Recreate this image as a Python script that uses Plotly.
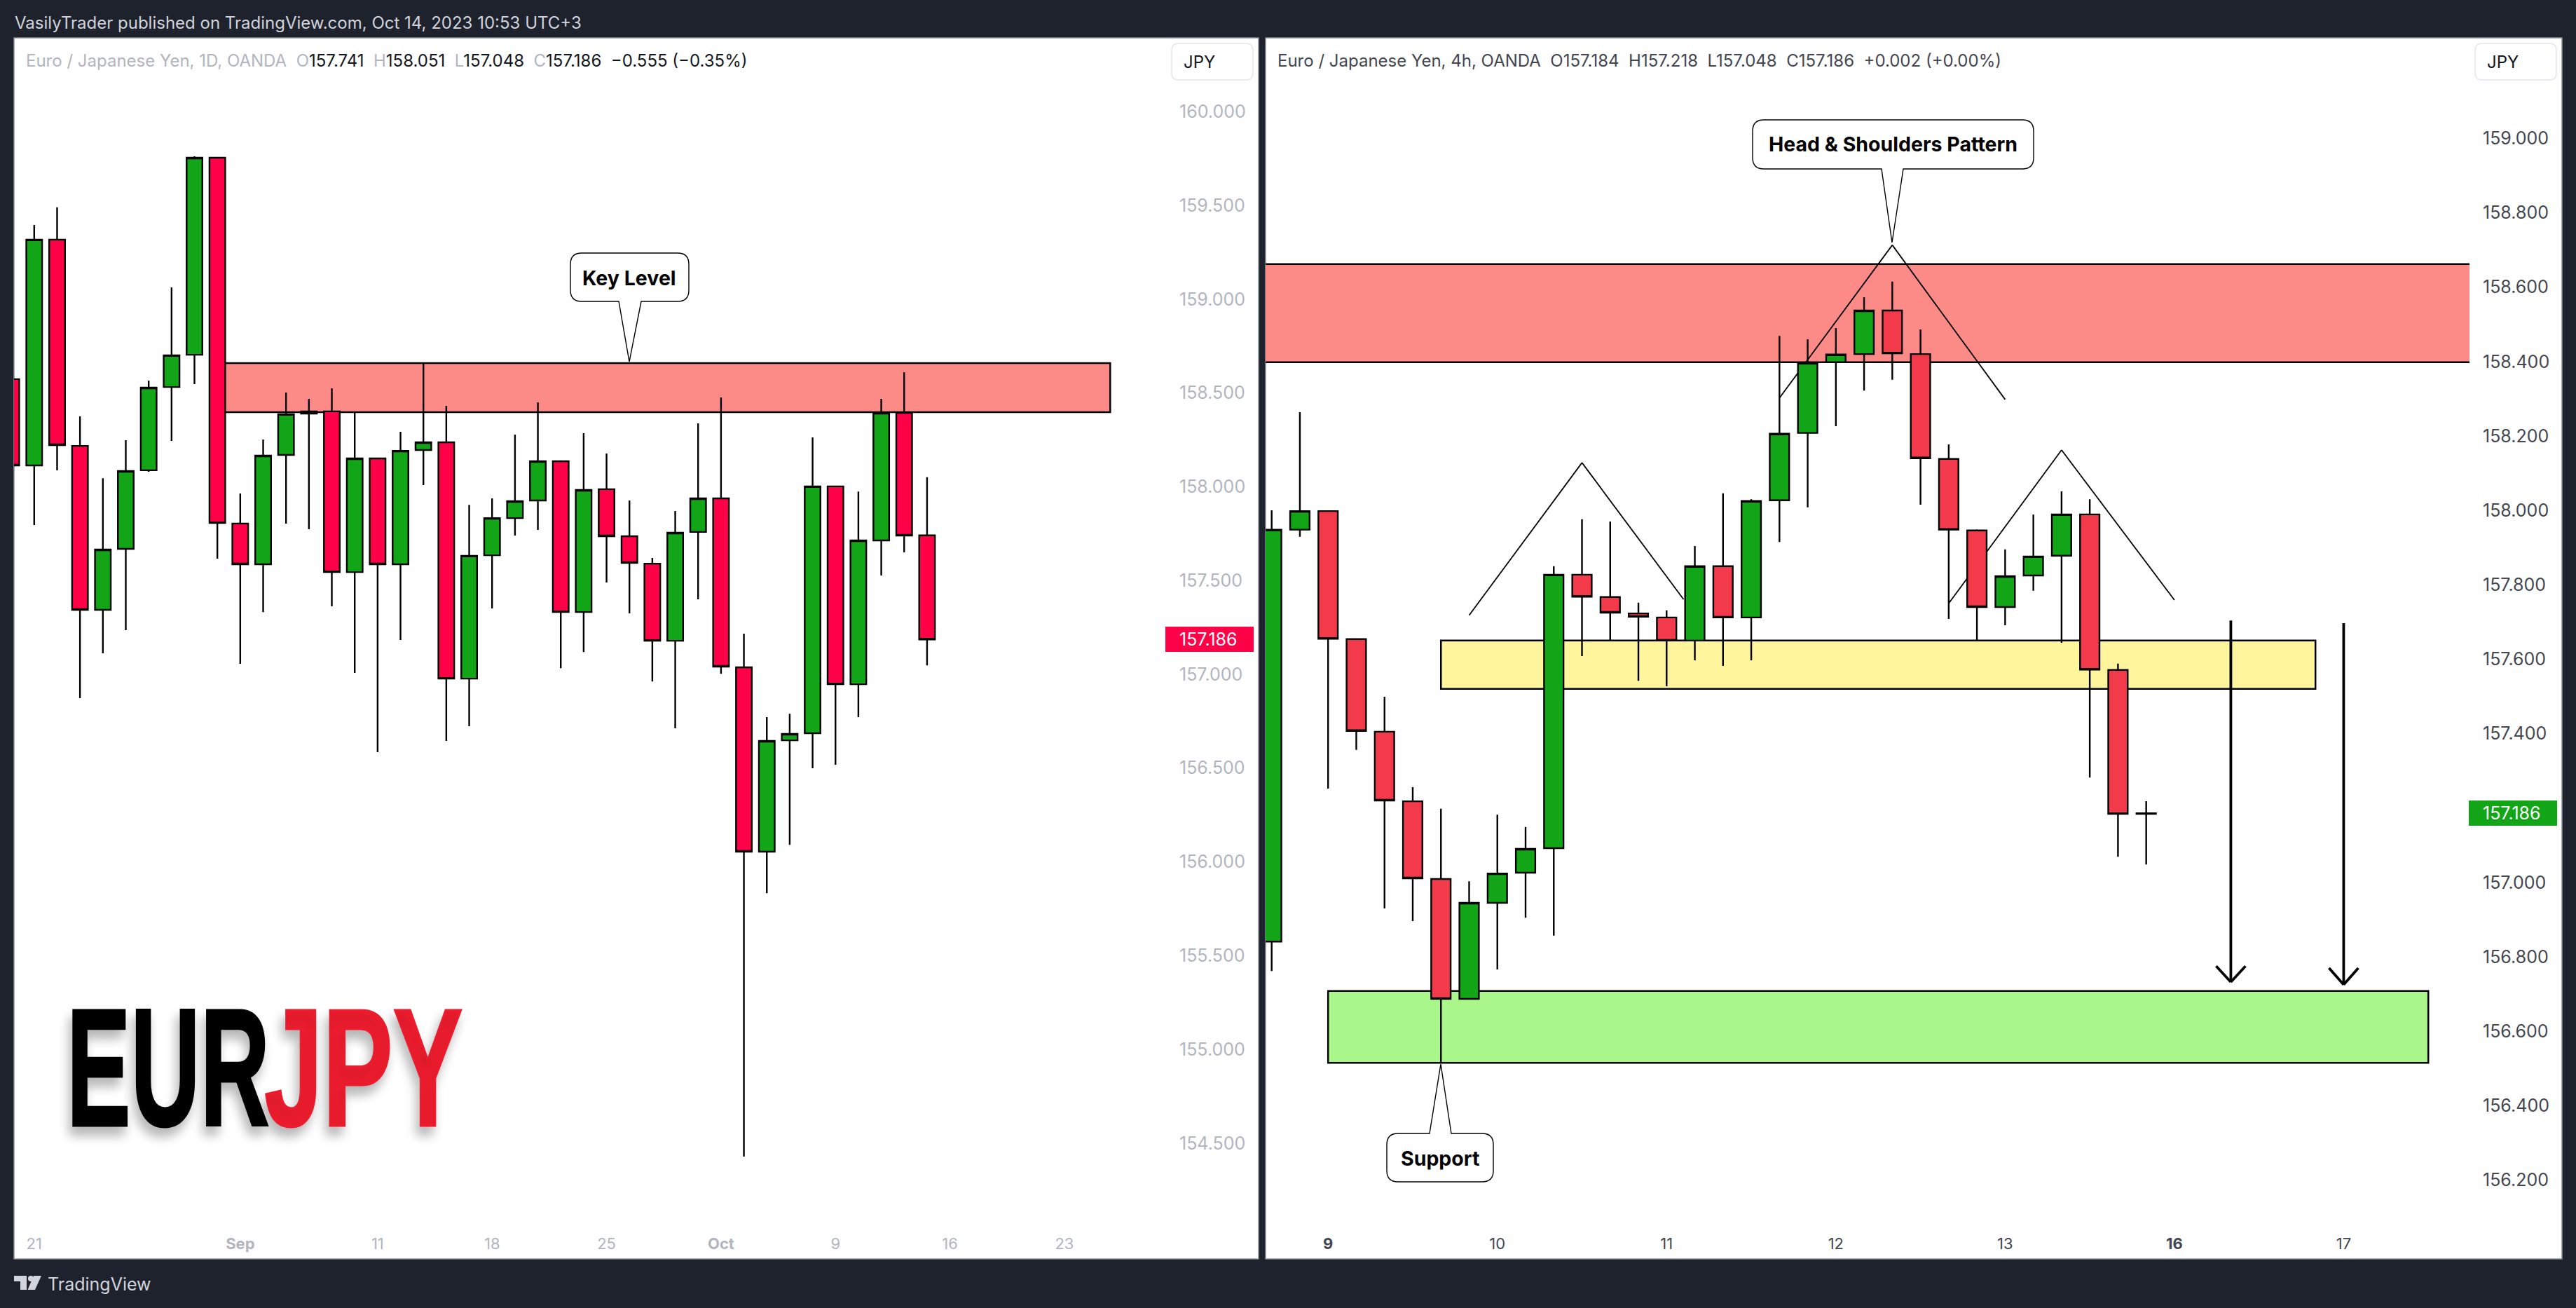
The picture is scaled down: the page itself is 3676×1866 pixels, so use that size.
import plotly.graph_objects as go

W, H = 3676, 1866

# daily candles, session index -1 is the one cut off by the left edge
daily_x = list(range(-1, 40))
daily_open = [158.574, 158.114, 159.318, 158.218, 157.344, 157.669, 158.088, 158.532, 158.704, 159.755,
              157.804, 157.587, 158.170, 158.390, 158.402, 157.545, 158.151, 157.587, 158.196, 158.237,
              156.977, 157.635, 157.833, 157.927, 158.136, 157.332, 157.987, 157.736, 157.590, 157.179,
              157.759, 157.938, 157.037, 156.054, 156.648, 156.686, 158.002, 156.947, 157.714, 158.394,
              157.741]
daily_high = [158.574, 159.396, 159.490, 158.375, 158.046, 158.248, 158.566, 159.063, 159.762, 159.755,
              157.964, 158.252, 158.503, 158.469, 158.525, 158.398, 158.151, 158.293, 158.660, 158.432,
              157.904, 157.938, 158.278, 158.450, 158.136, 158.286, 158.177, 157.927, 157.620, 157.871,
              158.338, 158.476, 157.217, 156.772, 156.790, 158.263, 158.002, 157.975, 158.469, 158.611,
              158.051]
daily_low = [158.114, 157.796, 158.088, 156.873, 157.112, 157.235, 158.080, 158.245, 158.547, 157.617,
             157.056, 157.332, 157.804, 157.774, 157.362, 157.007, 156.585, 157.183, 158.009, 156.645,
             156.723, 157.351, 157.740, 157.770, 157.033, 157.119, 157.490, 157.325, 156.962, 156.712,
             157.400, 157.003, 154.428, 155.833, 156.091, 156.499, 156.518, 156.772, 157.527, 157.650,
             157.048]
daily_close = [158.114, 159.318, 158.222, 157.344, 157.665, 158.084, 158.529, 158.701, 159.755, 157.807,
               157.587, 158.166, 158.387, 158.402, 157.545, 158.151, 157.587, 158.192, 158.237, 156.977,
               157.632, 157.833, 157.923, 158.136, 157.332, 157.983, 157.736, 157.594, 157.179, 157.755,
               157.938, 157.041, 156.054, 156.645, 156.682, 158.002, 156.947, 157.714, 158.394, 157.740,
               157.186]

# 4h candles
h4_x = list(range(32))
h4_open = [156.841, 157.948, 157.998, 157.654, 157.405, 157.218, 157.009, 156.687, 156.945, 157.026,
           157.092, 157.827, 157.767, 157.723, 157.712, 157.650, 157.850, 157.712, 158.027, 158.208,
           158.398, 158.420, 158.537, 158.420, 158.138, 157.946, 157.740, 157.825, 157.878, 157.989,
           157.571, 157.184]
h4_high = [158.000, 158.264, 157.998, 157.654, 157.499, 157.256, 157.198, 157.003, 157.182, 157.149,
           157.850, 157.976, 157.970, 157.752, 157.731, 157.904, 158.046, 158.030, 158.469, 158.460,
           158.490, 158.573, 158.615, 158.486, 158.177, 157.949, 157.895, 157.989, 158.051, 158.030,
           157.588, 157.218]
h4_low = [156.762, 157.929, 157.252, 157.356, 156.930, 156.896, 156.514, 156.687, 156.766, 156.905,
          156.857, 157.608, 157.650, 157.542, 157.527, 157.597, 157.582, 157.597, 157.915, 158.008,
          158.226, 158.322, 158.351, 158.015, 157.708, 157.648, 157.691, 157.784, 157.644, 157.282,
          157.069, 157.048]
h4_close = [157.948, 157.998, 157.655, 157.407, 157.220, 157.011, 156.687, 156.945, 157.024, 157.090,
            157.827, 157.768, 157.725, 157.714, 157.650, 157.850, 157.712, 158.025, 158.206, 158.396,
            158.419, 158.537, 158.422, 158.140, 157.948, 157.740, 157.823, 157.876, 157.989, 157.572,
            157.184, 157.186]

daily_price_ticks = [160.0, 159.5, 159.0, 158.5, 158.0, 157.5, 157.0, 156.5, 156.0, 155.5, 155.0, 154.5]
daily_time_ticks = [0, 9, 15, 20, 25, 30, 35, 40, 45]
daily_time_labels = ["21", "<b>Sep</b>", "11", "18", "25", "<b>Oct</b>", "9", "16", "23"]
# 157.2 is hidden behind the last-price tag on the real chart
h4_price_ticks = [159.0, 158.8, 158.6, 158.4, 158.2, 158.0, 157.8, 157.6, 157.4, 157.0, 156.8, 156.6, 156.4, 156.2]
h4_time_ticks = [2, 8, 14, 20, 26, 32, 38]
h4_time_labels = ["<b>9</b>", "10", "11", "12", "13", "<b>16</b>", "17"]

# zones: x0, x1, low, high
key_level = [8, 47, 158.398, 158.660]
h4_red_zone = [-1, 50, 158.398, 158.662]
h4_yellow_zone = [6, 37, 157.520, 157.650]
h4_green_zone = [2, 41, 156.515, 156.708]

# head and shoulders legs
shoulder_left_x, shoulder_left_y = [7, 11, 14.6], [157.718, 158.128, 157.761]
head_x, head_y = [18, 22, 26], [158.302, 158.713, 158.298]
shoulder_right_x, shoulder_right_y = [24, 28, 32], [157.750, 158.162, 157.759]

# target arrows: x, start, tip, barb level
arrow_one = [34, 157.704, 156.732, 156.775]
arrow_two = [38, 157.697, 156.725, 156.770]

GREEN = "#12a517"
RED_1D = "#ff0147"
RED_4H = "#f33a4a"
FONT = "Inter"


def px(x):
    return x / W


def py(y):
    return 1 - y / H


def rounded(x0, y0, x1, y1, r, fill, line, width, spike=None):
    # rounded box in pixels, spike = (base0, base1, tip_x, tip_y) above or below the box
    def p(x, y):
        return f"{px(x):.5f},{py(y):.5f}"
    s = f"M{p(x0 + r, y0)}"
    if spike and spike[3] < y0:
        s += f" L{p(spike[0], y0)} L{p(spike[2], spike[3])} L{p(spike[1], y0)}"
    s += f" L{p(x1 - r, y0)} Q{p(x1, y0)} {p(x1, y0 + r)} L{p(x1, y1 - r)} Q{p(x1, y1)} {p(x1 - r, y1)}"
    if spike and spike[3] > y1:
        s += f" L{p(spike[1], y1)} L{p(spike[2], spike[3])} L{p(spike[0], y1)}"
    s += f" L{p(x0 + r, y1)} Q{p(x0, y1)} {p(x0, y1 - r)} L{p(x0, y0 + r)} Q{p(x0, y0)} {p(x0 + r, y0)} Z"
    return dict(type="path", xref="paper", yref="paper", path=s, fillcolor=fill,
                line=dict(color=line, width=width), layer="above")


def callout(x0, y0, x1, y1, base0, base1, tip_x, tip_y):
    return rounded(x0, y0, x1, y1, 16, "white", "black", 1.4, (base0, base1, tip_x, tip_y))


def poly(points):
    return "M" + " L".join(f"{px(x):.5f},{py(y):.5f}" for x, y in points) + " Z"


def tag(x0, x1, y0, y1, color):
    return dict(type="path", xref="paper", yref="paper", path=poly([(x0, y0), (x1, y0), (x1, y1), (x0, y1)]),
                fillcolor=color, line=dict(color=color, width=2), layer="above")


def zone(xr, yr, rect, color):
    return dict(type="rect", xref=xr, yref=yr, x0=rect[0], x1=rect[1], y0=rect[2], y1=rect[3],
                fillcolor=color, line=dict(color="black", width=2.5), layer="below")


def legs(xr, yr, xs, ys):
    return [dict(type="line", xref=xr, yref=yr, x0=xs[i], x1=xs[i + 1], y0=ys[i], y1=ys[i + 1],
                 line=dict(color="black", width=1.8), layer="below") for i in range(len(xs) - 1)]


def arrow(xr, yr, a):
    x, start, tip, barb = a
    out = []
    for x0, y0, x1, y1 in [(x, start, x, tip), (x - 0.52, barb, x, tip), (x + 0.52, barb, x, tip)]:
        out.append(dict(type="line", xref=xr, yref=yr, x0=x0, x1=x1, y0=y0, y1=y1,
                        line=dict(color="black", width=3.8), layer="above"))
    return out


def text(x, y, s, size, color, anchor="left", yref="paper", **kw):
    return dict(x=px(x), y=py(y) if yref == "paper" else y, xref="paper", yref=yref, text=s, showarrow=False,
                xanchor=anchor, yanchor="middle", borderpad=0, align=anchor if anchor != "center" else "center",
                font=dict(family=kw.pop("family", FONT), size=size, color=color, **kw))


fig = go.Figure()

fig.add_trace(go.Candlestick(
    x=daily_x, open=daily_open, high=daily_high, low=daily_low, close=daily_close,
    increasing=dict(line=dict(color="black", width=2.4), fillcolor=GREEN),
    decreasing=dict(line=dict(color="black", width=2.4), fillcolor=RED_1D),
    whiskerwidth=0, xaxis="x", yaxis="y", showlegend=False))

fig.add_trace(go.Candlestick(
    x=h4_x, open=h4_open, high=h4_high, low=h4_low, close=h4_close,
    increasing=dict(line=dict(color="black", width=2.4), fillcolor=GREEN),
    decreasing=dict(line=dict(color="black", width=2.4), fillcolor=RED_4H),
    whiskerwidth=0, xaxis="x2", yaxis="y2", showlegend=False))

shapes = [
    dict(type="rect", xref="paper", yref="paper", x0=px(20), x1=px(1796), y0=py(1796), y1=py(54),
         fillcolor="white", line=dict(color="#8a8e99", width=1.5), layer="below"),
    dict(type="rect", xref="paper", yref="paper", x0=px(1806), x1=px(3656), y0=py(1796), y1=py(54),
         fillcolor="white", line=dict(color="#8a8e99", width=1.5), layer="below"),
    zone("x", "y", key_level, "#fc8a86"),
    zone("x2", "y2", h4_red_zone, "#fc8a86"),
    zone("x2", "y2", h4_yellow_zone, "#fff59d"),
    zone("x2", "y2", h4_green_zone, "#a9f68a"),
]
shapes += legs("x2", "y2", shoulder_left_x, shoulder_left_y)
shapes += legs("x2", "y2", head_x, head_y)
shapes += legs("x2", "y2", shoulder_right_x, shoulder_right_y)
shapes += arrow("x2", "y2", arrow_one)
shapes += arrow("x2", "y2", arrow_two)
shapes += [
    callout(814, 361, 983, 430, 883, 915, 898, 516),
    callout(2501, 171, 2902, 241, 2685, 2716, 2700, 346),
    callout(1979, 1617, 2131, 1686, 2040, 2071, 2056, 1518),
    rounded(1672, 62, 1788, 114, 10, "white", "#e6e7ee", 1.5),
    rounded(3532, 62, 3648, 114, 10, "white", "#e6e7ee", 1.5),
    tag(1664, 1788, 895, 929, RED_1D),
    tag(3524, 3648, 1143, 1177, GREEN),
    # TradingView mark
    dict(type="path", xref="paper", yref="paper", fillcolor="#d1d4dc", line=dict(width=0), layer="above",
         path=poly([(20, 1820), (38, 1820), (38, 1840), (29, 1840), (29, 1828), (20, 1828)])),
    dict(type="path", xref="paper", yref="paper", fillcolor="#d1d4dc", line=dict(width=0), layer="above",
         path=poly([(48, 1820), (59, 1820), (50, 1840), (39.5, 1840)])),
    dict(type="circle", xref="paper", yref="paper", fillcolor="#d1d4dc", line=dict(width=0), layer="above",
         x0=px(40), x1=px(48), y0=py(1828), y1=py(1820)),
]

G = "#b2b5be"
K = "#131722"
D = "#434651"
legend_1d = (f"Euro / Japanese Yen, 1D, OANDA&nbsp;&nbsp;O<span style='color:{K}'>157.741</span>&nbsp;&nbsp;H"
             f"<span style='color:{K}'>158.051</span>&nbsp;&nbsp;L<span style='color:{K}'>157.048</span>&nbsp;&nbsp;C"
             f"<span style='color:{K}'>157.186</span>&nbsp;&nbsp;<span style='color:{K}'>−0.555 (−0.35%)</span>")
legend_4h = "Euro / Japanese Yen, 4h, OANDA&nbsp;&nbsp;O157.184&nbsp;&nbsp;H157.218&nbsp;&nbsp;L157.048&nbsp;&nbsp;C157.186&nbsp;&nbsp;+0.002 (+0.00%)"

annotations = [
    text(20, 32, "VasilyTrader published on TradingView.com, Oct 14, 2023 10:53 UTC+3", 24, "#d1d4dc"),
    text(36, 86, legend_1d, 24, G),
    text(1822, 86, legend_4h, 24, D),
    text(1711, 88, "JPY", 24, K, anchor="center"),
    text(3571, 88, "JPY", 24, K, anchor="center"),
    text(898, 396, "<b>Key Level</b>", 28.5, "black", anchor="center"),
    text(2701, 205, "<b>Head &amp; Shoulders Pattern</b>", 28.5, "black", anchor="center"),
    text(2055, 1652, "<b>Support</b>", 28.5, "black", anchor="center"),
    text(1682, 157.186, "157.186", 25, "white", yref="y"),
    text(3542, 157.186, "157.186", 25, "white", yref="y2"),
    text(67, 1832, "TradingView", 25, "#d1d4dc"),
    text(94, 1523, "<b>EUR</b>", 240, "black", family="Liberation Sans", shadow="-6px 10px 16px rgba(0,0,0,0.28)"),
    text(376, 1523, "<b>JPY</b>", 240, "#ed1c2e", family="Liberation Sans", shadow="-6px 10px 16px rgba(0,0,0,0.28)"),
]

axis_common = dict(showgrid=False, zeroline=False, showline=False, ticks="", ticklen=0)

fig.update_layout(
    width=W, height=H, margin=dict(l=0, r=0, t=0, b=0), autosize=False,
    paper_bgcolor="#1e222d", plot_bgcolor="white",
    font=dict(family=FONT),
    showlegend=False,
    boxgap=0.17, boxgroupgap=0.17,
    shapes=shapes, annotations=annotations,
    xaxis=dict(domain=[px(20), px(1664)], range=[-0.882, 49.44], anchor="y", rangeslider=dict(visible=False),
               tickmode="array", tickvals=daily_time_ticks, ticktext=daily_time_labels, tickangle=0,
               ticklabelstandoff=14, tickfont=dict(size=22, color=G), **axis_common),
    yaxis=dict(domain=[py(1745), py(54)], range=[154.073, 160.394], anchor="x", side="right",
               tickmode="array", tickvals=daily_price_ticks, tickformat=".3f",
               ticklabelstandoff=18, tickfont=dict(size=25, color=G), **axis_common),
    xaxis2=dict(domain=[px(1806), px(3524)], range=[-0.216, 42.46], anchor="y2", rangeslider=dict(visible=False),
                tickmode="array", tickvals=h4_time_ticks, ticktext=h4_time_labels, tickangle=0,
                ticklabelstandoff=14, tickfont=dict(size=22, color=D), **axis_common),
    yaxis2=dict(domain=[py(1745), py(54)], range=[156.084, 159.270], anchor="x2", side="right",
                tickmode="array", tickvals=h4_price_ticks, tickformat=".3f",
                ticklabelstandoff=18, tickfont=dict(size=25, color=D), **axis_common),
)

# the logo lettering is far narrower than any installed face, so squeeze the text itself
post = """
document.body.style.margin = '0';
document.body.style.overflow = 'hidden';
function squeeze() {
  document.querySelectorAll('text.annotation-text').forEach(function (t) {
    if (t.style.fontSize !== '240px') return;
    t.style.transformBox = 'fill-box';
    t.style.transformOrigin = 'left center';
    t.style.transform = 'scaleX(' + (t.textContent === 'EUR' ? 0.572 : 0.625) + ')';
    t.style.stroke = t.style.fill;
    t.style.strokeWidth = '3px';
  });
}
squeeze();
setTimeout(squeeze, 100);
"""

fig.write_html("out.html", post_script=post, config=dict(displayModeBar=False))
